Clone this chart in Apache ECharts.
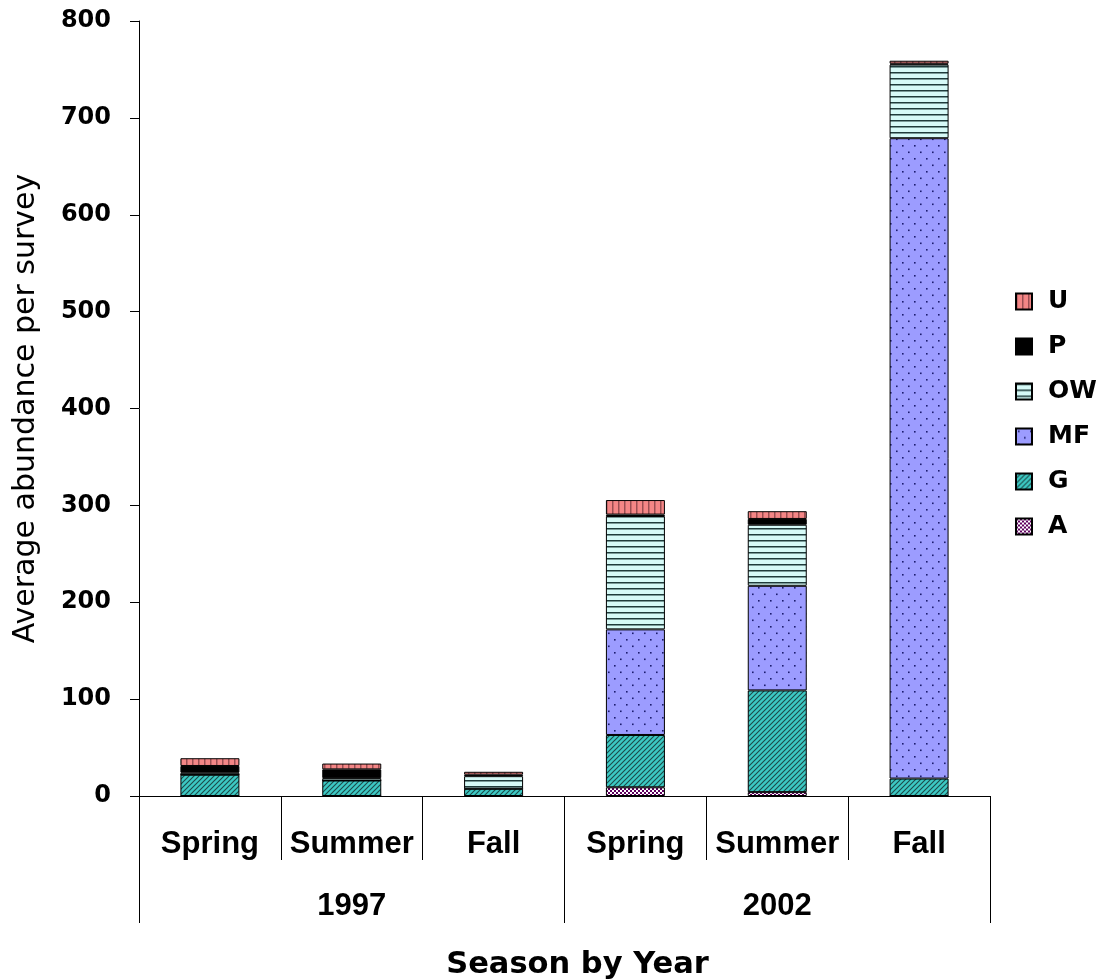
<!DOCTYPE html>
<html>
<head>
<meta charset="utf-8">
<script src="https://cdn.jsdelivr.net/npm/echarts@6/dist/echarts.min.js"></script>
<style>
  html, body { margin: 0; padding: 0; background: #fff; }
  #chart { width: 1104px; height: 980px; }
</style>
</head>
<body>
<div id="chart"></div>
<script>
// Categories and tick labels
var seasons = ['Spring', 'Summer', 'Fall', 'Spring', 'Summer', 'Fall'];
var years = ['1997', '2002'];
var legendOrder = ['U', 'P', 'OW', 'MF', 'G', 'A'];

// Average abundance per survey, stacked bottom to top: A, G, MF, OW, P, U
var valuesA  = [0, 0, 0, 9, 4, 0];
var valuesG  = [22, 16, 7.5, 54, 105, 18];
var valuesMF = [0, 0, 0, 109, 108, 661];
var valuesOW = [2, 2.5, 13, 117, 63, 76];
var valuesP  = [7, 9, 1.5, 1.5, 6, 1];
var valuesU  = [8, 6, 3, 15, 8, 3];

// Tiled fill patterns drawn on small canvases
function tile(w, h, draw) {
  var c = document.createElement('canvas');
  c.width = w; c.height = h;
  var ctx = c.getContext('2d');
  draw(ctx, w, h);
  return { image: c, repeat: 'repeat' };
}

var fillU = tile(6, 6, function (ctx, w, h) {
  ctx.fillStyle = '#f48686'; ctx.fillRect(0, 0, w, h);
  ctx.fillStyle = '#9a4e52'; ctx.fillRect(0, 0, 1.5, h);
});
var fillP = '#000000';
var fillOW = tile(6, 6, function (ctx, w, h) {
  ctx.fillStyle = '#d6faf7'; ctx.fillRect(0, 0, w, h);
  ctx.fillStyle = '#1f3b3b'; ctx.fillRect(0, 0, w, 1.5);
});
var fillMF = tile(12, 13, function (ctx, w, h) {
  ctx.fillStyle = '#9c9cff'; ctx.fillRect(0, 0, w, h);
  ctx.fillStyle = '#1c1c6e';
  ctx.fillRect(2, 2, 1.6, 1.6);
  ctx.fillRect(8, 8.5, 1.6, 1.6);
});
var fillG = tile(5, 5, function (ctx, w, h) {
  ctx.fillStyle = '#3cc9c3'; ctx.fillRect(0, 0, w, h);
  ctx.strokeStyle = '#1d4a4a'; ctx.lineWidth = 1.1;
  ctx.beginPath();
  ctx.moveTo(-1, h + 1); ctx.lineTo(w + 1, -1);
  ctx.moveTo(-1, 1); ctx.lineTo(1, -1);
  ctx.moveTo(w - 1, h + 1); ctx.lineTo(w + 1, h - 1);
  ctx.stroke();
});
var fillA = tile(4, 4, function (ctx, w, h) {
  ctx.fillStyle = '#ffffff'; ctx.fillRect(0, 0, w, h);
  ctx.fillStyle = '#5e005e';
  ctx.fillRect(0, 0, 2, 2); ctx.fillRect(2, 2, 2, 2);
});

var stackSeries = [
  { name: 'A', data: valuesA, fill: fillA },
  { name: 'G', data: valuesG, fill: fillG },
  { name: 'MF', data: valuesMF, fill: fillMF },
  { name: 'OW', data: valuesOW, fill: fillOW },
  { name: 'P', data: valuesP, fill: fillP },
  { name: 'U', data: valuesU, fill: fillU }
];

var boldWide = { fontFamily: 'DejaVu Sans', fontWeight: 'bold', color: '#000' };
var boldNarrow = { fontFamily: 'Liberation Sans', fontWeight: 'bold', color: '#000' };

var chart = echarts.init(document.getElementById('chart'), null, { renderer: 'canvas' });

chart.setOption({
  animation: false,
  backgroundColor: '#ffffff',
  grid: { left: 139, right: 114, top: 21, bottom: 184, containLabel: false, outerBoundsMode: 'none' },
  legend: {
    data: legendOrder,
    orient: 'vertical',
    left: 1010,
    top: 284,
    itemWidth: 16,
    itemHeight: 16,
    itemGap: 20,
    icon: 'rect',
    textStyle: Object.assign({ fontSize: 25, padding: [0, 0, 0, 11] }, boldWide)
  },
  xAxis: [
    {
      type: 'category',
      data: seasons,
      position: 'bottom',
      axisLine: { show: true, lineStyle: { color: '#000', width: 1 } },
      axisTick: { show: true, interval: 0, alignWithLabel: false, length: 64, lineStyle: { color: '#000', width: 1 } },
      axisLabel: Object.assign({ margin: 33, fontSize: 31, interval: 0 }, boldNarrow)
    },
    {
      type: 'category',
      data: years,
      position: 'bottom',
      axisLine: { show: false },
      axisTick: { show: true, interval: 0, alignWithLabel: false, length: 127, lineStyle: { color: '#000', width: 1 } },
      axisLabel: Object.assign({ margin: 95, fontSize: 31, interval: 0 }, boldNarrow),
      name: 'Season by Year',
      nameLocation: 'middle',
      nameGap: 154,
      nameTextStyle: Object.assign({ fontSize: 30.5, padding: [0, 0, 0, 26] }, boldWide)
    }
  ],
  yAxis: {
    type: 'value',
    min: 0,
    max: 800,
    interval: 100,
    axisLine: { show: true, lineStyle: { color: '#000', width: 1 } },
    axisTick: { show: true, length: 9, lineStyle: { color: '#000', width: 1 } },
    splitLine: { show: false },
    axisLabel: Object.assign({ margin: 28, fontSize: 24 }, boldWide),
    name: 'Average abundance per survey',
    nameLocation: 'middle',
    nameGap: 98,
    nameTextStyle: { fontFamily: 'DejaVu Sans', fontSize: 30, color: '#000' }
  },
  series: stackSeries.map(function (s) {
    return {
      name: s.name,
      type: 'bar',
      stack: 'total',
      xAxisIndex: 0,
      barWidth: 59,
      data: s.data,
      itemStyle: { color: s.fill, borderColor: '#000', borderWidth: 1 },
      emphasis: { disabled: true }
    };
  })
});
</script>
</body>
</html>
